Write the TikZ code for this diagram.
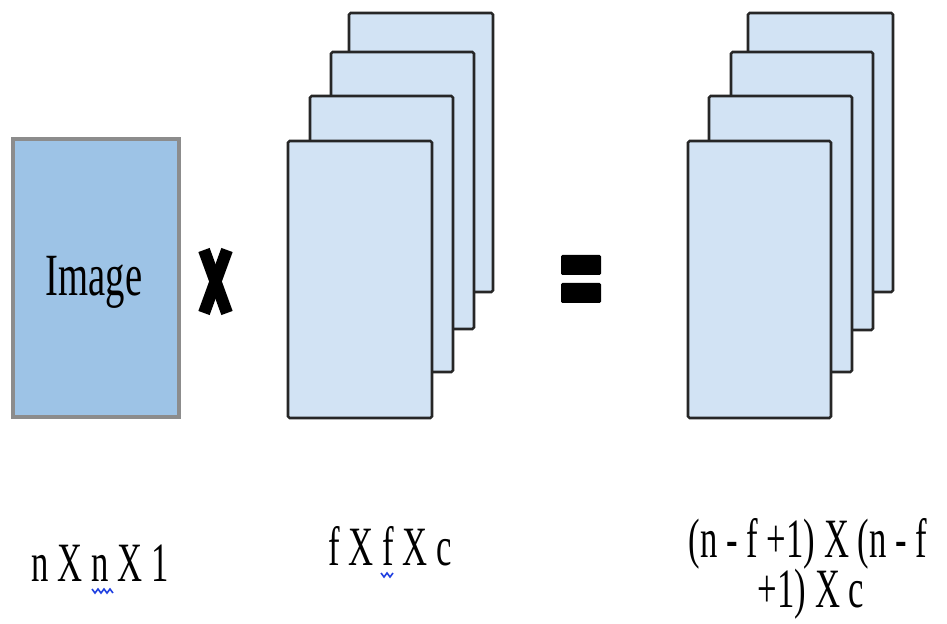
\documentclass[tikz,border=0pt]{standalone}
\usepackage{fontspec}
\setmainfont{Liberation Serif}
\definecolor{imgfill}{HTML}{9DC3E6}
\definecolor{imgline}{HTML}{8C8C8C}
\definecolor{filtfill}{HTML}{D2E3F4}
\definecolor{squig}{HTML}{1F3FE0}
\tikzset{
  imgbox/.style={fill=imgfill, draw=imgline, line width=2.4pt},
  filtbox/.style={fill=filtfill, draw=black!85, line width=1.9pt, rounded corners=1.2pt},
  lbl/.style={inner sep=0pt, anchor=base, font=\fontsize{26}{30}\selectfont},
  eqbar/.style={fill=black, rounded corners=1pt},
  xmark/.style={line width=9pt, draw=black},
  wave/.style={draw=squig, line width=1.2pt}
}
\newcommand{\sq}[1]{\scalebox{1}[1.6]{#1}}
\begin{document}
\begin{tikzpicture}[x=0.75pt, y=-0.75pt]
\useasboundingbox (0,0) rectangle (947,624);
% image
\draw[imgbox] (13,139) rectangle (179,417);
\node[lbl, font=\fontsize{29}{32}\selectfont] (imgtxt) at (94,296) {\scalebox{1}[1.55]{Image}};
% times sign
\draw[xmark] (204,250) -- (227,313);
\draw[xmark] (227,250) -- (204,313);
% filter stack
\draw[filtbox] (349,13) rectangle (493,292);
\draw[filtbox] (331,52) rectangle (474,329);
\draw[filtbox] (310,96) rectangle (453,372);
\draw[filtbox] (288,141) rectangle (432,418);
% equals
\fill[eqbar] (561,255) rectangle (601,275);
\fill[eqbar] (561,283) rectangle (601,303);
% output stack
\draw[filtbox] (748,13) rectangle (893,292);
\draw[filtbox] (731,52) rectangle (873,330);
\draw[filtbox] (709,96) rectangle (852,372);
\draw[filtbox] (688,141) rectangle (831,418);
% labels
\node[lbl] (l1) at (100,581) {\sq{n X n X 1}};
\node[lbl] (l2) at (390,565) {\sq{f X f X c}};
\node[lbl] (l3a) at (808,557) {\sq{(n - f +1) X (n - f}};
\node[lbl] (l3b) at (811,607) {\sq{+1) X c}};
% spell-check squiggles
\draw[wave] (92,589) -- (95,593) -- (98,589) -- (101,593) -- (104,589) -- (107,593) -- (110,589) -- (113,593);
\draw[wave] (381,573) -- (384,577) -- (387,573) -- (390,577) -- (393,573);
\end{tikzpicture}
\end{document}
